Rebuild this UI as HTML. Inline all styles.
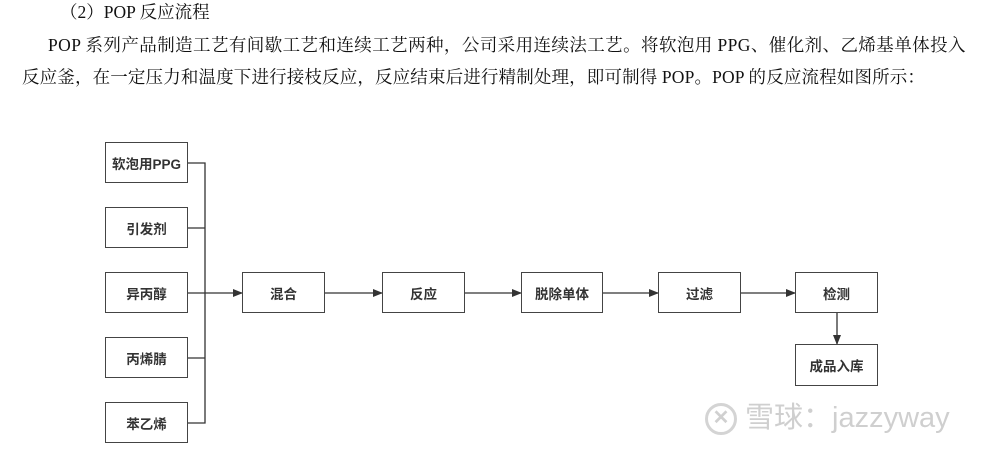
<!DOCTYPE html>
<html><head><meta charset="utf-8"><style>
body{margin:0;width:981px;height:449px;background:#fff;position:relative;overflow:hidden;font-family:"Liberation Serif","Noto Serif CJK SC",serif;}
.t{position:absolute;font-size:17.5px;color:#111;white-space:nowrap;line-height:20px;}
.b{position:absolute;border:1.3px solid #444;box-sizing:border-box;display:flex;align-items:center;justify-content:center;font-family:"Liberation Sans","Noto Sans CJK SC",sans-serif;font-size:13.5px;font-weight:bold;color:#333;background:#fff;}
</style></head><body>
<div class="t" style="left:60px;top:2px;">（2）POP 反应流程</div>
<div class="t" style="left:48px;top:35px;letter-spacing:0.42px">POP 系列产品制造工艺有间歇工艺和连续工艺两种，公司采用连续法工艺。将软泡用 PPG、催化剂、乙烯基单体投入</div>
<div class="t" style="left:22px;top:67px;letter-spacing:0.15px">反应釜，在一定压力和温度下进行接枝反应，反应结束后进行精制处理，即可制得 POP。POP 的反应流程如图所示：</div>
<svg width="981" height="449" style="position:absolute;left:0;top:0">
<defs><marker id="a" markerWidth="10" markerHeight="8" refX="9" refY="4" orient="auto" markerUnits="userSpaceOnUse"><path d="M0,0 L10,4 L0,8 z" fill="#333"/></marker></defs>
<g stroke="#333" stroke-width="1.3" fill="none">
<path d="M188,163H205V423H188M188,228H205M188,358H205M188,293H242" marker-end="url(#a)"/>
<line x1="325" y1="293" x2="382" y2="293" marker-end="url(#a)"/>
<line x1="465" y1="293" x2="521" y2="293" marker-end="url(#a)"/>
<line x1="603" y1="293" x2="658" y2="293" marker-end="url(#a)"/>
<line x1="741" y1="293" x2="795" y2="293" marker-end="url(#a)"/>
<line x1="837" y1="313" x2="837" y2="344" marker-end="url(#a)"/>
</g>
</svg>
<div class="b" style="left:105px;top:142px;width:83px;height:41px">软泡用PPG</div>
<div class="b" style="left:105px;top:207px;width:83px;height:41px">引发剂</div>
<div class="b" style="left:105px;top:272px;width:83px;height:41px">异丙醇</div>
<div class="b" style="left:105px;top:337px;width:83px;height:41px">丙烯腈</div>
<div class="b" style="left:105px;top:402px;width:83px;height:41px">苯乙烯</div>
<div class="b" style="left:242px;top:272px;width:83px;height:41px">混合</div>
<div class="b" style="left:382px;top:272px;width:83px;height:41px">反应</div>
<div class="b" style="left:521px;top:272px;width:82px;height:41px">脱除单体</div>
<div class="b" style="left:658px;top:272px;width:83px;height:41px">过滤</div>
<div class="b" style="left:795px;top:272px;width:83px;height:41px">检测</div>
<div class="b" style="left:795px;top:344px;width:83px;height:42px">成品入库</div>
<div style="position:absolute;left:705px;top:403px;width:32px;height:32px;border:3.5px solid #d4d4d4;border-radius:50%;box-sizing:border-box;color:#d0d0d0;font:bold 20px 'Liberation Sans',sans-serif;text-align:center;line-height:25px">✕</div>
<div style="position:absolute;left:745px;top:400px;font-family:'Liberation Sans','Noto Sans CJK SC',sans-serif;font-size:29px;color:#cfcfcf;white-space:nowrap;line-height:36px">雪球：jazzyway</div>
</body></html>
